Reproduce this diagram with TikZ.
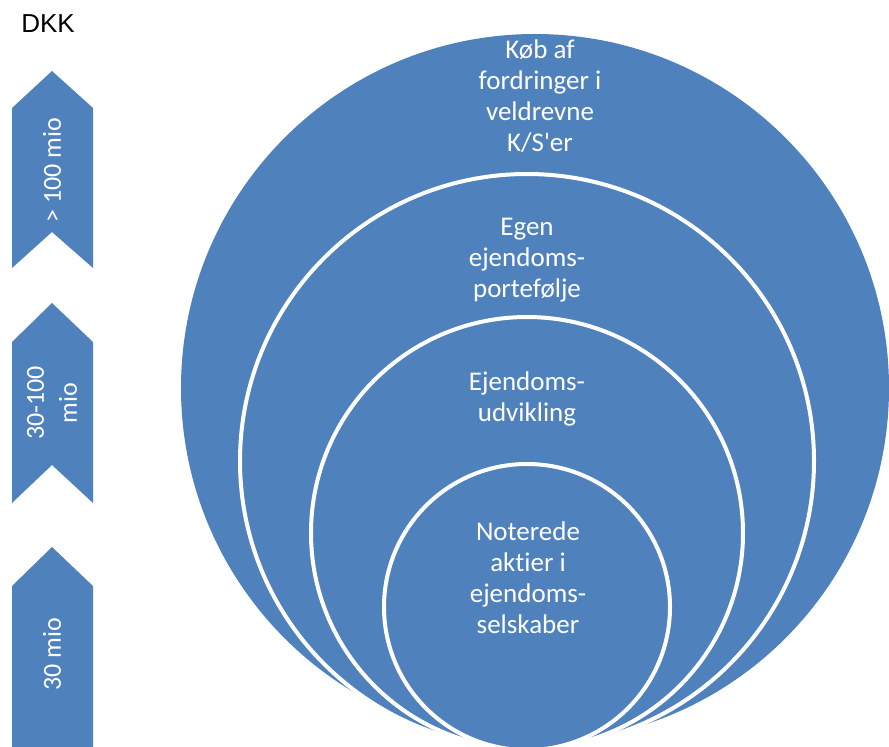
\documentclass[tikz,border=0pt]{standalone}
\usepackage{fontspec}
\newfontfamily\calfont{Carlito}[Ligatures={NoCommon,NoContextual}]
\newfontfamily\arialfont{Liberation Sans}
\usepackage{xcolor}
\definecolor{bblue}{HTML}{4F81BD}
\usetikzlibrary{positioning}

\begin{document}
\begin{tikzpicture}[x=1pt,y=-1pt,
	ring/.style={circle,fill=bblue,draw=white,line width=4pt,inner sep=0pt},
	txt/.style={text=white,align=center,font=\calfont\fontsize{27}{31}\selectfont},
	tag/.style={text=white,align=center,rotate=90,font=\calfont\fontsize{26}{33}\selectfont}]
				\useasboundingbox (0,0) rectangle (889,747);
				\clip (0,0) rectangle (889,747);
				% nested circles
				\node[ring,draw=none,minimum size=708pt] (r1) at (535,388) {};
				\node[ring,minimum size=574pt] (r2) at (527,461) {};
				\node[ring,minimum size=432pt] (r3) at (527,533) {};
				\node[ring,minimum size=286pt] (r4) at (527,607) {};
				\node[txt] (t1) at (540,96) {K\o b af\\fordringer i\\veldrevne\\K/S'er};
				\node[txt] (t2) at (527,260) {Egen\\ejendoms-\\portef\o lje};
				\node[txt] (t3) at (527,399) {Ejendoms-\\udvikling};
				\node[txt] (t4) at (528,578) {Noterede\\aktier i\\ejendoms-\\selskaber};
				% size arrows
				\fill[bblue] (12,108) -- (52,71) -- (93,108) -- (93,268) -- (52,232) -- (12,268) -- cycle;
				\fill[bblue] (12,342) -- (52,303) -- (93,342) -- (93,503) -- (52,465) -- (12,503) -- cycle;
				\fill[bblue] (12,586) -- (52,547) -- (93,586) -- (93,747) -- (12,747) -- cycle;
				\node[tag] (a1) at (52,170) {> 100 mio};
				\node[tag] (a2) at (52,403) {30-100\\mio};
				\node[tag] (a3) at (52,654) {30 mio};
				\node[font=\arialfont\fontsize{26}{30}\selectfont] (dkk) at (48,24) {DKK};
			\end{tikzpicture}
\end{document}
